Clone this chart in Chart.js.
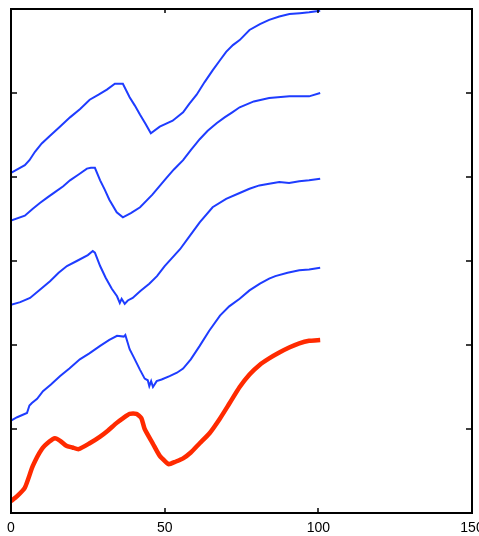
<!DOCTYPE html>
<html>
<head>
<meta charset="utf-8">
<script src="https://cdn.jsdelivr.net/npm/chart.js@4"></script>
<style>
  html, body { margin: 0; padding: 0; background: #fff; }
  #wrap { width: 479px; height: 536px; }
</style>
</head>
<body>
<div id="wrap"><canvas id="curvas"></canvas></div>
<script>
// Datos (x, y por curva)
const xTicks = [0, 50, 100, 150];
const yTicks = [0, 1, 2, 3, 4, 5, 6];

const redX = [0, 2, 4.5, 7.1, 10, 12.5, 14.3, 16, 18, 20, 22, 25.6, 29, 31.5, 34.3, 36.5, 38.6, 40.8, 42.4, 43.5, 46.1, 48.4, 50.6, 51.3, 53.5, 56, 58.5, 61.4, 64.6, 67.9, 71, 74.4, 77.6, 80.8, 84, 87.3, 90.5, 93.8, 97, 100.6];
const redY = [0.14, 0.2, 0.30, 0.56, 0.76, 0.85, 0.89, 0.86, 0.80, 0.78, 0.76, 0.83, 0.91, 0.98, 1.07, 1.13, 1.18, 1.18, 1.13, 1.0, 0.83, 0.68, 0.60, 0.58, 0.61, 0.65, 0.72, 0.83, 0.95, 1.12, 1.30, 1.50, 1.65, 1.76, 1.84, 1.91, 1.97, 2.02, 2.05, 2.06];

const blue4X = [0, 2, 5.2, 6, 6.8, 8.5, 10.4, 13, 16, 19, 22.4, 25.5, 29, 32, 34.5, 36.7, 37.2, 38.6, 40, 41.9, 43.5, 44.5, 45, 45.6, 46.2, 47.4, 49, 51.6, 54, 56, 58.5, 61.4, 64.5, 68, 71, 74.4, 77.6, 81, 84, 86, 90, 93.8, 97, 100.6];
const blue4Y = [1.10, 1.14, 1.19, 1.28, 1.31, 1.36, 1.45, 1.53, 1.63, 1.72, 1.83, 1.90, 1.99, 2.06, 2.11, 2.10, 2.12, 1.95, 1.85, 1.71, 1.60, 1.58, 1.51, 1.57, 1.50, 1.57, 1.59, 1.63, 1.67, 1.72, 1.83, 1.99, 2.17, 2.35, 2.46, 2.55, 2.65, 2.73, 2.79, 2.82, 2.86, 2.89, 2.90, 2.92];

const blue3X = [0, 3, 6.2, 9.5, 12.7, 15.5, 18.2, 21.4, 25, 26.6, 27.3, 29, 30.8, 32.8, 34.5, 35.4, 36, 37, 38, 39.6, 42, 45, 47.5, 50, 52.5, 55, 58, 61.4, 65.6, 70, 74.4, 77.6, 80.8, 84, 87.3, 90.5, 93.8, 97, 100.6];
const blue3Y = [2.48, 2.51, 2.56, 2.66, 2.76, 2.86, 2.94, 3.00, 3.07, 3.12, 3.10, 2.94, 2.80, 2.67, 2.58, 2.50, 2.55, 2.49, 2.53, 2.56, 2.64, 2.73, 2.82, 2.94, 3.04, 3.14, 3.29, 3.46, 3.64, 3.74, 3.81, 3.86, 3.90, 3.92, 3.94, 3.93, 3.95, 3.96, 3.98];

const blue2X = [0, 4.5, 7, 9.4, 12, 14.3, 17, 19.2, 22, 24.7, 26, 27.3, 29, 30.5, 32, 34.4, 36.4, 39, 42, 46, 50.6, 53, 56, 58.5, 61.4, 64, 66.9, 69.5, 72, 74.4, 79, 84, 90.6, 97, 100.6];
const blue2Y = [3.48, 3.54, 3.62, 3.69, 3.76, 3.82, 3.89, 3.96, 4.03, 4.10, 4.11, 4.11, 3.96, 3.85, 3.73, 3.58, 3.52, 3.57, 3.64, 3.79, 3.99, 4.09, 4.20, 4.32, 4.45, 4.55, 4.64, 4.71, 4.77, 4.83, 4.90, 4.94, 4.96, 4.96, 5.00];

const blue1X = [0, 4.5, 6, 7.8, 10, 12.7, 16, 19.2, 22.5, 25.6, 28.5, 31.2, 33.8, 36.4, 38.6, 40.3, 42, 43.8, 45.5, 48.4, 52.6, 56, 58, 60.4, 63, 65.6, 68, 70, 72.2, 74.4, 77.6, 81, 84, 87.3, 90.6, 94, 97, 100.6];
const blue1Y = [4.05, 4.14, 4.20, 4.30, 4.40, 4.49, 4.60, 4.71, 4.81, 4.92, 4.98, 5.04, 5.11, 5.11, 4.95, 4.85, 4.74, 4.63, 4.52, 4.60, 4.67, 4.77, 4.87, 4.98, 5.13, 5.27, 5.39, 5.49, 5.57, 5.63, 5.75, 5.82, 5.87, 5.91, 5.94, 5.95, 5.96, 5.98];

const azul = '#1e3cff';
const rojo = '#ff2a00';

const pares = (xs, ys) => xs.map((x, i) => ({ x: x, y: ys[i] }));

// Caja y marcas hacia dentro, como en la figura original
const cajaPlugin = {
    id: 'caja',
    afterDraw(chart) {
        const { ctx, chartArea: a, scales } = chart;
        ctx.save();
        ctx.strokeStyle = '#000';
        ctx.lineWidth = 2;
        ctx.strokeRect(a.left, a.top, a.right - a.left, a.bottom - a.top);
        ctx.lineWidth = 1.5;
        ctx.beginPath();
        yTicks.slice(1, -1).forEach(v => {
            const py = Math.round(scales.y.getPixelForValue(v));
            ctx.moveTo(a.left, py); ctx.lineTo(a.left + 6, py);
            ctx.moveTo(a.right, py); ctx.lineTo(a.right - 6, py);
        });
        xTicks.slice(1, -1).forEach(v => {
            const px = Math.round(scales.x.getPixelForValue(v));
            ctx.moveTo(px, a.bottom); ctx.lineTo(px, a.bottom - 5);
            ctx.moveTo(px, a.top); ctx.lineTo(px, a.top + 4);
        });
        ctx.stroke();
        ctx.restore();
    }
};

const lineaAzul = (xs, ys) => ({
    data: pares(xs, ys),
    borderColor: azul,
    borderWidth: 2,
    pointRadius: 0,
    tension: 0
});

new Chart(document.getElementById('curvas'), {
    type: 'line',
    data: {
        datasets: [
            lineaAzul(blue1X, blue1Y),
            lineaAzul(blue2X, blue2Y),
            lineaAzul(blue3X, blue3Y),
            lineaAzul(blue4X, blue4Y),
            {
                data: pares(redX, redY),
                borderColor: rojo,
                borderWidth: 4.5,
                pointRadius: 0,
                tension: 0.2
            }
        ]
    },
    options: {
        responsive: true,
        maintainAspectRatio: false,
        animation: false,
        layout: { padding: { left: 11, right: 7, top: 9, bottom: 0 } },
        plugins: {
            legend: { display: false },
            tooltip: { enabled: false }
        },
        scales: {
            x: {
                type: 'linear',
                min: 0,
                max: 150,
                afterBuildTicks: (scale) => { scale.ticks = xTicks.map(v => ({ value: v })); },
                afterFit: (scale) => {
                    scale.paddingLeft = 0;
                    scale.paddingRight = 0;
                    scale.height = 23;
                },
                grid: { display: false, drawTicks: false },
                border: { display: false },
                ticks: {
                    padding: 7,
                    color: '#000',
                    maxRotation: 0,
                    font: { family: 'Liberation Sans', size: 14 }
                }
            },
            y: {
                display: false,
                min: 0,
                max: 6
            }
        }
    },
    plugins: [cajaPlugin]
});
</script>
</body>
</html>
